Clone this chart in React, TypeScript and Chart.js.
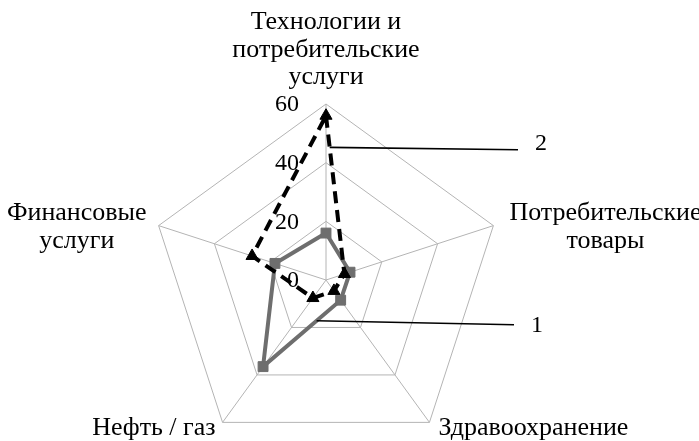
import React, { useEffect, useRef } from "react";
import { Chart, registerables } from "chart.js";

Chart.register(...registerables);

// ---- data ----
const categories: string[][] = [
  ["Технологии и", "потребительские", "услуги"],
  ["Потребительские", "товары"],
  ["Здравоохранение"],
  ["Нефть / газ"],
  ["Финансовые", "услуги"],
];
const series1: number[] = [16, 8.6, 8.5, 36.5, 18.3];
const series2: number[] = [56, 6.6, 4.6, 7.6, 26.5];
const tickValues: number[] = [0, 20, 40, 60];
const annotationLabels: string[] = ["1", "2"];

// ---- styles / layout ----
const FONT = '"Liberation Serif", "Times New Roman", serif';
const LABEL_SIZE = 26;
const LABEL_LH = 27.5;
const TICK_SIZE = 24;
const GEOMETRY = { xCenter: 326, yCenter: 280, radius: 176 };

type Placement = { h: "left" | "right" | "center"; dx: number; v: "top" | "middle" | "bottom"; dy: number };
const labelPlacement: Placement[] = [
  { h: "center", dx: 0, v: "bottom", dy: -13 },
  { h: "left", dx: 16, v: "middle", dy: 1.5 },
  { h: "left", dx: 9, v: "middle", dy: 6 },
  { h: "right", dx: -7, v: "middle", dy: 6 },
  { h: "right", dx: -12, v: "middle", dy: 1.5 },
];

const customPlugin = {
  id: "customRadarText",
  beforeDatasetsDraw(chart: any) {
    const scale = chart.scales.r;
    const ctx: CanvasRenderingContext2D = chart.ctx;
    ctx.save();
    ctx.font = `${TICK_SIZE}px ${FONT}`;
    ctx.fillStyle = "#000";
    ctx.textAlign = "right";
    ctx.textBaseline = "middle";
    tickValues.forEach((v) => {
      const d = scale.getDistanceFromCenterForValue(v);
      ctx.fillText(String(v), scale.xCenter - 27, scale.yCenter - d + 1);
    });
    ctx.restore();
  },
  afterDatasetsDraw(chart: any) {
    const scale = chart.scales.r;
    const ctx: CanvasRenderingContext2D = chart.ctx;
    ctx.save();
    // point labels
    ctx.font = `${LABEL_SIZE}px ${FONT}`;
    ctx.fillStyle = "#000";
    ctx.textAlign = "center";
    ctx.textBaseline = "middle";
    categories.forEach((lines, i) => {
      const p = scale.getPointPosition(i, scale.drawingArea);
      const pl = labelPlacement[i];
      const w = Math.max(...lines.map((l) => ctx.measureText(l).width));
      const h = lines.length * LABEL_LH;
      let cx = p.x + pl.dx;
      if (pl.h === "left") cx = p.x + pl.dx + w / 2;
      if (pl.h === "right") cx = p.x + pl.dx - w / 2;
      let top = p.y + pl.dy - h / 2;
      if (pl.v === "bottom") top = p.y + pl.dy - h;
      if (pl.v === "top") top = p.y + pl.dy;
      lines.forEach((l, j) => {
        ctx.fillText(l, cx, top + LABEL_LH / 2 + j * LABEL_LH);
      });
    });

    // annotations
    const m1 = chart.getDatasetMeta(0).data;
    const m2 = chart.getDatasetMeta(1).data;
    const lerp = (a: any, b: any, t: number) => ({ x: a.x + (b.x - a.x) * t, y: a.y + (b.y - a.y) * t });
    const s1 = lerp(m1[2], m1[3], 0.31);
    const s2 = lerp(m2[0], m2[1], 0.2);
    ctx.strokeStyle = "#000";
    ctx.lineWidth = 1.6;
    ctx.beginPath();
    ctx.moveTo(s2.x, s2.y);
    ctx.lineTo(518, s2.y + 2.3);
    ctx.moveTo(s1.x, s1.y);
    ctx.lineTo(514, s1.y + 4);
    ctx.stroke();
    ctx.font = `${TICK_SIZE}px ${FONT}`;
    ctx.textAlign = "left";
    ctx.fillText(annotationLabels[1], 535, s2.y - 4);
    ctx.fillText(annotationLabels[0], 531, s1.y + 5);
    ctx.restore();
  },
};

export default function App() {
  const ref = useRef<HTMLCanvasElement | null>(null);
  useEffect(() => {
    if (!ref.current) return;
    const chart = new Chart(ref.current, {
      type: "radar",
      data: {
        labels: categories.map((c) => c.join(" ")),
        datasets: [
          {
            label: "1",
            data: series1,
            borderColor: "#6e6e6e",
            backgroundColor: "#6e6e6e",
            borderWidth: 4,
            pointStyle: "rect",
            pointRadius: 7,
            pointBorderWidth: 1,
            pointBackgroundColor: "#6e6e6e",
            pointBorderColor: "#6e6e6e",
            fill: false,
            tension: 0,
            order: 2,
          },
          {
            label: "2",
            data: series2,
            borderColor: "#000",
            backgroundColor: "#000",
            borderWidth: 4,
            borderDash: [12, 7],
            pointStyle: "triangle",
            pointRadius: 7,
            pointBorderWidth: 1,
            pointBackgroundColor: "#000",
            pointBorderColor: "#000",
            fill: false,
            tension: 0,
            order: 1,
          },
        ],
      },
      options: {
        animation: false,
        responsive: false,
        layout: { padding: 0 },
        plugins: { legend: { display: false }, tooltip: { enabled: false } },
        scales: {
          r: {
            min: 0,
            max: 60,
            ticks: { display: false, stepSize: 20 },
            pointLabels: { display: false },
            grid: { color: "#b4b4b4", lineWidth: 1 },
            angleLines: { color: "#b4b4b4", lineWidth: 1 },
            afterFit: (scale: any) => {
              scale.xCenter = GEOMETRY.xCenter;
              scale.yCenter = GEOMETRY.yCenter;
              scale.drawingArea = GEOMETRY.radius;
            },
          },
        },
      } as any,
      plugins: [customPlugin],
    });
    return () => chart.destroy();
  }, []);
  return (
    <div style={{ position: "fixed", left: 0, top: 0, width: 699, height: 441, background: "#fff" }}>
      <canvas ref={ref} width={699} height={441} />
    </div>
  );
}
